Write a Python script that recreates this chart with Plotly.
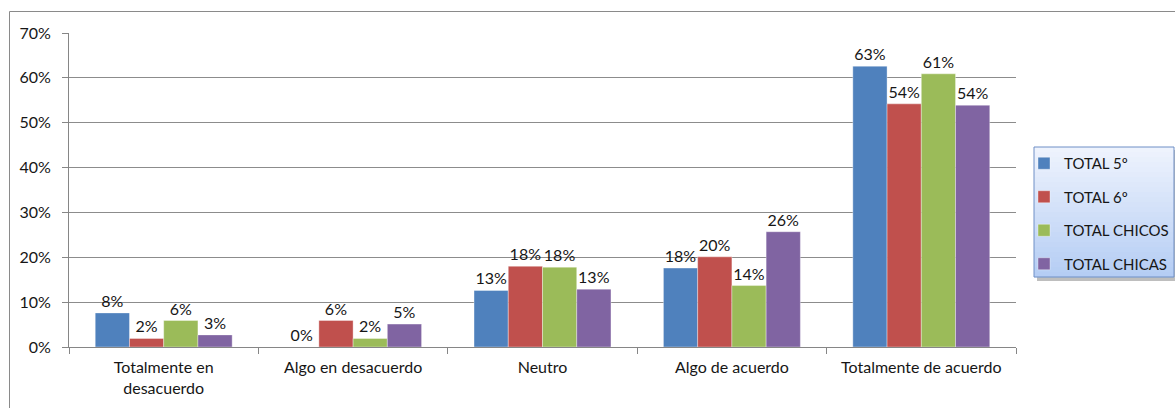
import plotly.graph_objects as go

categories = ["Totalmente en<br>desacuerdo", "Algo en desacuerdo", "Neutro", "Algo de acuerdo", "Totalmente de acuerdo"]
series_names = ["TOTAL 5º", "TOTAL 6º", "TOTAL CHICOS", "TOTAL CHICAS"]
total_5 = [0.076, 0.0, 0.126, 0.176, 0.626]
total_6 = [0.019, 0.059, 0.180, 0.201, 0.542]
total_chicos = [0.059, 0.019, 0.178, 0.137, 0.609]
total_chicas = [0.027, 0.051, 0.129, 0.257, 0.539]
colors = ["#4F81BD", "#C0504D", "#9BBB59", "#8064A2"]
y_ticks = [0, 0.1, 0.2, 0.3, 0.4, 0.5, 0.6, 0.7]

FONT = "Lato"
TXT = "#161616"

fig = go.Figure()
for name, vals, col in zip(series_names, [total_5, total_6, total_chicos, total_chicas], colors):
    fig.add_trace(go.Bar(
        x=categories, y=vals, name=name, legendgroup=name,
        marker=dict(color=col, line=dict(color="rgba(255,255,255,0.6)", width=0.6)),
        texttemplate="%{y:.0%}", textposition="outside", cliponaxis=False,
        constraintext="none",
        textfont=dict(family=FONT, size=16, color=TXT),
    ))

# plot area pixel geometry
FW, FH = 1175, 408
L, R, T, B = 69, 1016, 33, 347
W, H = R - L, B - T
def px(x):
    return (x - L) / W
def py(y):
    return (B - y) / H

shapes = [
    # outer chart border
    dict(type="rect", xref="paper", yref="paper", x0=px(9.5), x1=px(1185), y0=py(11.5), y1=py(420),
         line=dict(color="#8a8a8a", width=1), fillcolor="rgba(0,0,0,0)", layer="below"),
    # legend shadow
    dict(type="rect", xref="paper", yref="paper", x0=px(1037), x1=px(1177), y0=py(150), y1=py(281),
         line=dict(width=0), fillcolor="rgba(110,110,110,0.45)", layer="below"),
]
# legend box with vertical gradient (bands)
bx0, bx1, by0, by1 = 1034, 1174, 147, 277
nb = 26
c_top = (238, 243, 253)
c_bot = (181, 205, 244)
for i in range(nb):
    t = i / (nb - 1)
    c = tuple(round(a + (b - a) * t) for a, b in zip(c_top, c_bot))
    ya = by0 + (by1 - by0) * i / nb
    yb = by0 + (by1 - by0) * (i + 1) / nb
    shapes.append(dict(type="rect", xref="paper", yref="paper", x0=px(bx0), x1=px(bx1),
                       y0=py(ya), y1=py(yb + 0.3), line=dict(width=0),
                       fillcolor="rgb(%d,%d,%d)" % c, layer="below"))
shapes.append(dict(type="rect", xref="paper", yref="paper", x0=px(bx0), x1=px(bx1), y0=py(by0), y1=py(by1),
                   line=dict(color="#6f8fc6", width=1), fillcolor="rgba(0,0,0,0)", layer="below"))

fig.update_layout(
    width=FW, height=FH,
    margin=dict(l=L, r=FW - R, t=T, b=FH - B, autoexpand=False),
    paper_bgcolor="white", plot_bgcolor="white",
    barmode="group", bargap=0.277, bargroupgap=0,
    font=dict(family=FONT, size=16, color=TXT),
    showlegend=True,
    legend=dict(xref="container", yref="container",
                x=1024 / FW, y=1 - 147 / FH, xanchor="left", yanchor="top",
                bgcolor="rgba(0,0,0,0)", borderwidth=0,
                font=dict(family=FONT, size=15, color=TXT),
                tracegroupgap=11, itemwidth=30),
    shapes=shapes,
    xaxis=dict(showline=True, linecolor="#868686", linewidth=1,
               ticks="outside", ticklen=6, tickcolor="#868686", tickson="boundaries",
               showgrid=False, ticklabelstandoff=6,
               tickfont=dict(family=FONT, size=16, color=TXT)),
    yaxis=dict(range=[0, 0.7], tickvals=y_ticks, tickformat=".0%",
               showline=True, linecolor="#868686", linewidth=1,
               ticks="outside", ticklen=6, tickcolor="#868686",
               showgrid=True, gridcolor="#8c8c8c", gridwidth=1, zeroline=False,
               ticklabelstandoff=8,
               tickfont=dict(family=FONT, size=16, color=TXT)),
)

fig.write_html("out.html")
